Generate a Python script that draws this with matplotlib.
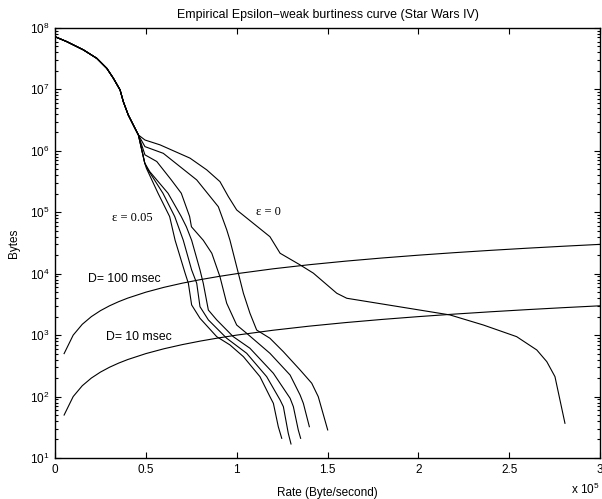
import matplotlib
matplotlib.use("Agg")
import matplotlib.pyplot as plt
from matplotlib.ticker import LogLocator, NullFormatter

plt.rcParams['font.family'] = ['Liberation Sans', 'DejaVu Sans']
plt.rcParams['mathtext.fontset'] = 'custom'
plt.rcParams['mathtext.rm'] = 'Liberation Sans'
plt.rcParams['mathtext.it'] = 'Liberation Sans:italic'

# Rates in units of 1e5 Byte/second
trunk_rate = [0.0, 0.064, 0.156, 0.230, 0.285, 0.321, 0.358, 0.376, 0.403, 0.440, 0.459]
trunk_bytes = [7.2e7, 6.0e7, 4.4e7, 3.2e7, 2.2e7, 1.52e7, 9.8e6, 6.3e6, 3.84e6, 2.33e6, 1.81e6]

eps0_rate = [0.495, 0.578, 0.743, 0.835, 0.908, 0.954, 1.0, 1.183, 1.239, 1.349, 1.422,
             1.551, 1.606, 2.174, 2.358, 2.541, 2.652, 2.707, 2.752, 2.807]
eps0_bytes = [1.5e6, 1.25e6, 7.6e5, 4.9e5, 3.15e5, 1.8e5, 1.09e5, 4.0e4, 2.15e4, 1.39e4, 1.02e4,
              4.8e3, 3.98e3, 2.13e3, 1.46e3, 944, 573, 370, 211, 36.7]

eps1_rate = [0.495, 0.596, 0.780, 0.899, 0.945, 0.963, 1.009, 1.037, 1.073, 1.110, 1.183,
             1.257, 1.349, 1.413, 1.449, 1.501]
eps1_bytes = [1.17e6, 9.1e5, 3.36e5, 1.23e5, 5.2e4, 3.5e4, 1.02e4, 4.8e3, 2.27e3, 1.21e3, 889,
              537, 271, 165, 99.6, 28.6]

eps2_rate = [0.495, 0.560, 0.640, 0.695, 0.741, 0.751, 0.816, 0.863, 0.908, 0.945, 1.0,
             1.055, 1.183, 1.294, 1.349, 1.367, 1.400]
eps2_bytes = [8.6e5, 6.7e5, 3.36e5, 2.04e5, 8.5e4, 5.8e4, 3.5e4, 2.15e4, 8.9e3, 3.3e3, 1.46e3,
              1.07e3, 506, 224, 106, 77.5, 32.3]

eps3_rate = [0.494, 0.521, 0.622, 0.695, 0.723, 0.752, 0.798, 0.816, 0.844, 0.890, 0.981,
             1.073, 1.202, 1.294, 1.312, 1.339, 1.352]
eps3_bytes = [6.3e5, 4.6e5, 2.04e5, 8.5e4, 5.8e4, 3.5e4, 1.15e4, 6.98e3, 2.56e3, 1.77e3, 944,
              611, 239, 93.8, 68.4, 28.6, 20.9]

eps4_rate = [0.494, 0.512, 0.594, 0.659, 0.706, 0.752, 0.780, 0.798, 0.844, 0.945, 1.055,
             1.165, 1.239, 1.257, 1.284, 1.299]
eps4_bytes = [6.3e5, 4.9e5, 2.04e5, 8.5e4, 3.5e4, 1.15e4, 6.98e3, 2.9e3, 1.77e3, 889, 506,
              211, 87.9, 68.4, 25.2, 16.9]

eps5_rate = [0.494, 0.503, 0.567, 0.631, 0.661, 0.716, 0.734, 0.752, 0.798, 0.890, 0.963,
             1.037, 1.128, 1.183, 1.202, 1.229, 1.248]
eps5_bytes = [6.3e5, 5.2e5, 2.04e5, 8.5e4, 3.5e4, 1.02e4, 6.98e3, 3.1e3, 1.88e3, 944, 692,
              446, 211, 99.6, 77.5, 32.3, 20.9]

branches = [(eps0_rate, eps0_bytes), (eps1_rate, eps1_bytes), (eps2_rate, eps2_bytes),
            (eps3_rate, eps3_bytes), (eps4_rate, eps4_bytes), (eps5_rate, eps5_bytes)]

# Delay bound lines: bytes = D * rate
delays_s = [0.1, 0.01]
bound_rate = [0.05, 0.10, 0.15, 0.20, 0.25, 0.30, 0.35, 0.40, 0.50, 0.60, 0.70, 0.80, 0.90, 1.0,
              1.2, 1.4, 1.6, 1.8, 2.0, 2.2, 2.4, 2.6, 2.8, 3.0]

xticks = [0, 0.5, 1, 1.5, 2, 2.5, 3]
xtick_labels = ['0', '0.5', '1', '1.5', '2', '2.5', '3']

fig = plt.figure(figsize=(6.02, 4.99), dpi=100)
ax = fig.add_axes([0.0914, 0.0822, 0.9053, 0.8618])

lw = 0.8
for r, b in branches:
    ax.plot(trunk_rate + r, trunk_bytes + b, color='black', lw=lw)

for d in delays_s:
    ax.plot(bound_rate, [d * r * 1e5 for r in bound_rate], color='black', lw=lw)

ax.set_yscale('log')
ax.set_xlim(0, 3)
ax.set_ylim(10, 1e8)
ax.set_xticks(xticks)
ax.set_xticklabels(xtick_labels)
ax.yaxis.set_major_locator(LogLocator(base=10, numticks=10))
ax.yaxis.set_minor_locator(LogLocator(base=10, subs=range(2, 10), numticks=100))
ax.yaxis.set_minor_formatter(NullFormatter())
ax.tick_params(which='both', direction='in', top=True, right=True, labelsize=8.5, width=0.8)
ax.tick_params(which='major', length=4.5, pad=4)
ax.tick_params(which='minor', length=2.5)
for s in ax.spines.values():
    s.set_linewidth(1.0)

ax.set_title('Empirical Epsilon\u2212weak burtiness curve (Star Wars IV)', fontsize=8.9, pad=7.5)
ax.set_xlabel('Rate (Byte/second)', fontsize=8.5, labelpad=8)
ax.set_ylabel('Bytes', fontsize=8.5, labelpad=7)
ax.text(1.0, -0.055, r'x 10$^{5}$', transform=ax.transAxes, ha='right', va='top', fontsize=8.5)

ax.text(0.424, 8.1e4, '\u03b5 = 0.05', family=['Liberation Serif', 'DejaVu Serif'],
        fontsize=9, ha='center', va='center')
ax.text(1.175, 1.0e5, '\u03b5 = 0', family=['Liberation Serif', 'DejaVu Serif'],
        fontsize=9, ha='center', va='center')
ax.text(0.182, 8.2e3, 'D= 100 msec', fontsize=8.8, ha='left', va='center')
ax.text(0.281, 9.3e2, 'D= 10 msec', fontsize=8.8, ha='left', va='center')

fig.savefig('out.png', dpi=100)
